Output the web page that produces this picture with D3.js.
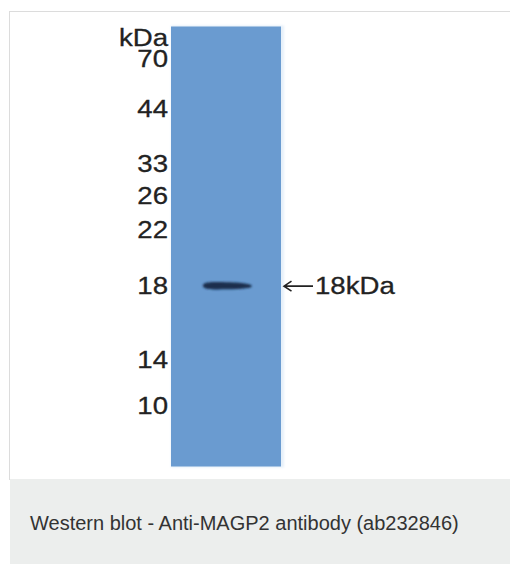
<!DOCTYPE html>
<html>
<head>
<meta charset="utf-8">
<script src="https://cdn.jsdelivr.net/npm/d3@7"></script>
<style>
  body { margin: 0; background: #fff; }
  svg { display: block; }
  .wb-label { font-family: "Liberation Sans", Arial, sans-serif; fill: #222; stroke: #222; stroke-width: 0.3; }
  .wb-caption { font-family: "Liberation Sans", Arial, sans-serif; fill: #333; }
</style>
</head>
<body>
<svg class="wb-chart"></svg>
<script>
// marker ladder (kDa) and where each sits down the lane (fraction of lane length)
let markers = ['70', '44', '33', '26', '22', '18', '14', '10'];
let markerRf = [0.073, 0.186, 0.311, 0.384, 0.461, 0.589, 0.757, 0.86];

// detected band(s)
let bandLabels = ['18kDa'];
let bandRf = [0.589];
let bandSpan = [[0.29, 0.735]]; // left/right of band as fraction of lane width

let unitLabel = 'kDa';
let caption = 'Western blot - Anti-MAGP2 antibody (ab232846)';

let W = 510, H = 564;
let lane = {x0: 171, x1: 281, y0: 26.5, y1: 466.5};

let svg = d3.select('.wb-chart')
  .attr('width', W)
  .attr('height', H);

// card + caption strip
svg.append('rect')
  .attr('x', 9.5).attr('y', 11.5)
  .attr('width', W).attr('height', 468)
  .attr('fill', '#fff')
  .attr('stroke', '#dcdcdc');
svg.append('rect')
  .attr('x', 10).attr('y', 479)
  .attr('width', W - 10).attr('height', H - 479)
  .attr('fill', '#eceeed');

let y = d3.scaleLinear().domain([0, 1]).range([lane.y0, lane.y1]);
let x = d3.scaleLinear().domain([0, 1]).range([lane.x0, lane.x1]);

let defs = svg.append('defs');
let blur = defs.append('filter').attr('id', 'wb-blur')
  .attr('x', '-20%').attr('y', '-100%').attr('width', '140%').attr('height', '300%');
blur.append('feGaussianBlur').attr('stdDeviation', 1.1);

let soft = defs.append('filter').attr('id', 'wb-soft')
  .attr('x', '-10%').attr('y', '-10%').attr('width', '120%').attr('height', '120%');
soft.append('feGaussianBlur').attr('stdDeviation', 1.2);

// faint halo round the lane (mostly on the right edge)
svg.append('rect')
  .attr('x', lane.x0).attr('y', lane.y0 - 1)
  .attr('width', lane.x1 - lane.x0 + 3).attr('height', lane.y1 - lane.y0 + 2)
  .attr('fill', '#e6f0f9')
  .attr('filter', 'url(#wb-soft)');

// the lane
svg.append('rect')
  .attr('x', lane.x0).attr('y', lane.y0)
  .attr('width', lane.x1 - lane.x0).attr('height', lane.y1 - lane.y0)
  .attr('fill', '#6a9bd0');

// bands: tapered blobs, thick on the left
let bandG = svg.append('g').attr('class', 'wb-bands');
bandRf.forEach(function (rf, i) {
  let xl = x(bandSpan[i][0]), xr = x(bandSpan[i][1]), yc = y(rf);
  let len = xr - xl;
  let p = d3.path();
  p.moveTo(xl, yc);
  p.bezierCurveTo(xl, yc - 4.4, xl + len * 0.2, yc - 4.0, xl + len * 0.55, yc - 3.4);
  p.bezierCurveTo(xl + len * 0.85, yc - 2.8, xr, yc - 1.4, xr, yc + 0.6);
  p.bezierCurveTo(xr, yc + 2.4, xl + len * 0.8, yc + 3.4, xl + len * 0.5, yc + 3.6);
  p.bezierCurveTo(xl + len * 0.2, yc + 4.0, xl, yc + 4.0, xl, yc);
  p.closePath();
  bandG.append('path')
    .attr('d', p.toString())
    .attr('fill', '#1b2f4d')
    .attr('filter', 'url(#wb-blur)');
});

let sx = 1.15, fs = 24;

// marker labels
let labelG = svg.append('g').attr('class', 'wb-markers');
labelG.selectAll('text.wb-label')
  .data(markers)
  .enter().append('text')
  .attr('class', 'wb-label')
  .attr('text-anchor', 'end')
  .attr('font-size', fs)
  .attr('transform', function (d, i) {
    return 'translate(168,' + (y(markerRf[i]) + 8.6) + ') scale(' + sx + ',1)';
  })
  .text(function (d) { return d; });

labelG.append('text')
  .attr('class', 'wb-label')
  .attr('text-anchor', 'end')
  .attr('font-size', fs)
  .attr('transform', 'translate(168,46) scale(' + sx + ',1)')
  .text(unitLabel);

// band annotations: arrow pointing at the lane, then the size
let annG = svg.append('g').attr('class', 'wb-annot');
bandRf.forEach(function (rf, i) {
  let ya = y(rf) + 0.5;
  annG.append('path')
    .attr('d', 'M284,' + ya + 'H313M291.5,' + (ya - 5) + 'L284,' + ya + 'L291.5,' + (ya + 5))
    .attr('fill', 'none')
    .attr('stroke', '#222')
    .attr('stroke-width', 1.6);
  annG.append('text')
    .attr('class', 'wb-label')
    .attr('font-size', fs)
    .attr('transform', 'translate(315,' + (y(rf) + 8.6) + ') scale(' + sx + ',1)')
    .text(bandLabels[i]);
});

svg.append('text')
  .attr('class', 'wb-caption')
  .attr('x', 30).attr('y', 529.5)
  .attr('font-size', 20)
  .text(caption);
</script>
</body>
</html>
